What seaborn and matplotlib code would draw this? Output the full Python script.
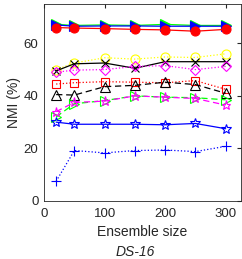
import numpy as np
import pandas as pd
import matplotlib
matplotlib.use("Agg")
import matplotlib.pyplot as plt
import seaborn as sns

sizes = [20, 50, 100, 150, 200, 250, 300]

green_tri = [67.2, 66.8, 67.0, 66.8, 67.2, 66.8, 66.8]
blue_tri = [67.0, 66.5, 66.6, 66.6, 66.5, 66.5, 66.5]
red_circ = [66.0, 65.8, 65.6, 65.3, 65.1, 64.6, 65.3]
yellow_circ = [50.0, 52.5, 54.5, 54.0, 54.8, 54.6, 56.0]
black_x = [49.5, 52.2, 52.5, 50.5, 53.0, 53.0, 53.0]
magenta_dia = [49.0, 49.8, 50.0, 51.2, 51.5, 50.0, 51.2]
red_sq = [44.5, 45.0, 45.4, 45.2, 45.0, 45.8, 42.5]
black_tri = [40.5, 40.3, 43.5, 44.0, 45.2, 44.3, 41.0]
green_rtri = [32.0, 37.0, 38.2, 40.0, 39.5, 39.3, 38.5]
magenta_star = [34.0, 37.5, 38.0, 40.0, 39.5, 39.0, 36.5]
blue_pent = [30.0, 29.2, 29.2, 29.2, 29.0, 29.5, 27.5]
blue_plus = [7.5, 19.2, 18.3, 19.2, 19.4, 18.8, 20.8]

styles = [
    ("g1", green_tri, "#00ff00", "-", ">", True),
    ("b1", blue_tri, "#0000ff", "-", ">", True),
    ("r1", red_circ, "#ff0000", "-", "o", True),
    ("y1", yellow_circ, "#ffff00", ":", "o", False),
    ("k1", black_x, "#000000", "-", "x", False),
    ("m1", magenta_dia, "#ff00ff", ":", "D", False),
    ("r2", red_sq, "#ff0000", ":", "s", False),
    ("k2", black_tri, "#000000", (0, (5, 3)), "^", False),
    ("g2", green_rtri, "#00ff00", (0, (5, 3)), ">", False),
    ("m2", magenta_star, "#ff00ff", (0, (5, 3)), "*", False),
    ("b2", blue_pent, "#0000ff", "-", "*", False),
    ("b3", blue_plus, "#0000ff", ":", "+", False),
]

sns.set_style("white")
plt.rcParams["font.family"] = ["Liberation Sans", "DejaVu Sans"]

fig = plt.figure(figsize=(2.42, 2.59), dpi=100)
ax = fig.add_axes([0.182, 0.224, 0.813, 0.761])

for name, vals, col, ls, mk, filled in styles:
    df = pd.DataFrame({"size": sizes, "nmi": vals})
    ms = 6.5
    if mk == "D":
        ms = 5
    elif mk == "s":
        ms = 5.5
    elif mk == "x":
        ms = 5.5
    elif mk == "*" and name == "b2":
        ms = 7.5
    sns.lineplot(data=df, x="size", y="nmi", ax=ax, color=col, linestyle=ls,
                 linewidth=0.9, marker=mk, markersize=ms,
                 markerfacecolor=col if filled else "none",
                 markeredgecolor=col, markeredgewidth=0.8)

ax.set_xlim(0, 325)
ax.set_ylim(0, 75)
ax.set_xticks([0, 100, 200, 300])
ax.set_yticks([0, 20, 40, 60])
ax.tick_params(direction="in", length=3, labelsize=9.5, colors="#262626",
               top=True, right=True, labelcolor="#262626")
ax.tick_params(axis="x", pad=5)
ax.tick_params(axis="y", pad=4)
for sp in ax.spines.values():
    sp.set_color("#262626")
    sp.set_linewidth(0.6)
ax.set_xlabel("Ensemble size", fontsize=10, color="#262626", labelpad=4)
ax.set_ylabel("NMI (%)", fontsize=10, color="#262626", labelpad=2)
fig.text(0.56, 0.01, "DS-16", fontsize=10, style="italic", color="#262626", ha="center")

fig.savefig("out.png", dpi=100)
